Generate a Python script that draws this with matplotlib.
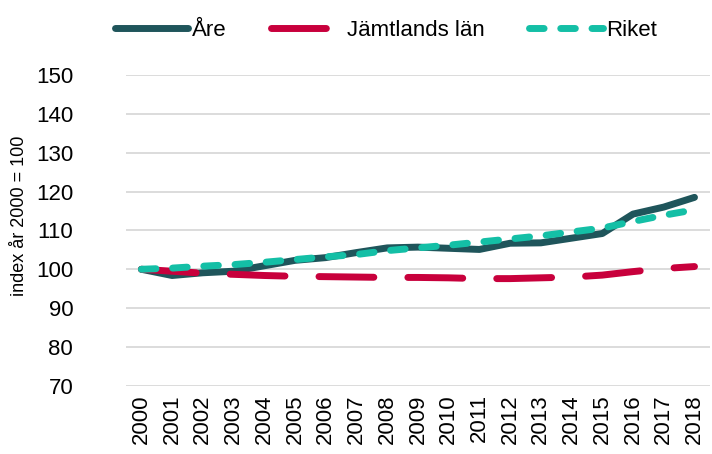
import matplotlib.pyplot as plt
import numpy as np

plt.rcParams['font.family'] = ['Liberation Sans', 'DejaVu Sans']

years = [str(y) for y in range(2000, 2019)]
are = [100, 98.4, 99.1, 99.5, 100.9, 102.3, 103.0, 104.3, 105.5, 105.7,
       105.4, 105.1, 106.7, 106.8, 108.0, 109.2, 114.2, 116.0, 118.5]
jamtland = [100, 99.5, 99.0, 98.7, 98.4, 98.2, 98.1, 98.0, 97.9, 97.9,
            97.8, 97.6, 97.6, 97.8, 98.0, 98.5, 99.4, 100.2, 100.7]
riket = [100, 100.3, 100.8, 101.2, 101.8, 102.5, 103.2, 103.8, 104.8, 105.5,
         106.2, 107.0, 107.8, 108.6, 109.6, 110.6, 112.3, 113.9, 115.3]
yticks = [70, 80, 90, 100, 110, 120, 130, 140, 150]

fig = plt.figure(figsize=(7.12, 4.54), dpi=100)
ax = fig.add_axes([0.177, 0.150, 0.820, 0.685])

x = np.arange(len(years))
lw = 5.0
ax.plot(x, are, color='#1F555B', lw=lw, solid_capstyle='round', solid_joinstyle='round', label='Åre', zorder=3)
ax.plot(x, jamtland, color='#C8003C', lw=lw, dashes=(7.9, 4.9), dash_capstyle='round', label='Jämtlands län', zorder=3)
ax.plot(x, riket, color='#14BFA6', lw=lw, dashes=(2.1, 2.4), dash_capstyle='round', label='Riket', zorder=4)

ax.set_xlim(-0.5, len(years) - 0.5)
ax.set_ylim(70, 150)
ax.set_yticks(yticks)
ax.set_xticks(x)
ax.set_xticklabels(years, rotation=90)
ax.tick_params(axis='both', length=0, labelsize=16, labelcolor='#000000')
ax.tick_params(axis='y', pad=38)
ax.tick_params(axis='x', pad=6)
ax.grid(axis='y', color='#D9D9D9', lw=1.3)
ax.set_axisbelow(True)
for s in ax.spines.values():
    s.set_visible(False)
ax.set_ylabel('index år 2000 = 100', fontsize=13)
ax.yaxis.set_label_coords(-0.168, 0.547)

fig.legend(loc='upper center', bbox_to_anchor=(0.542, 1.0), ncol=3, frameon=False,
           fontsize=16, handlelength=3.3, handletextpad=0.15, columnspacing=2.0)

fig.savefig('out.png', dpi=100)
